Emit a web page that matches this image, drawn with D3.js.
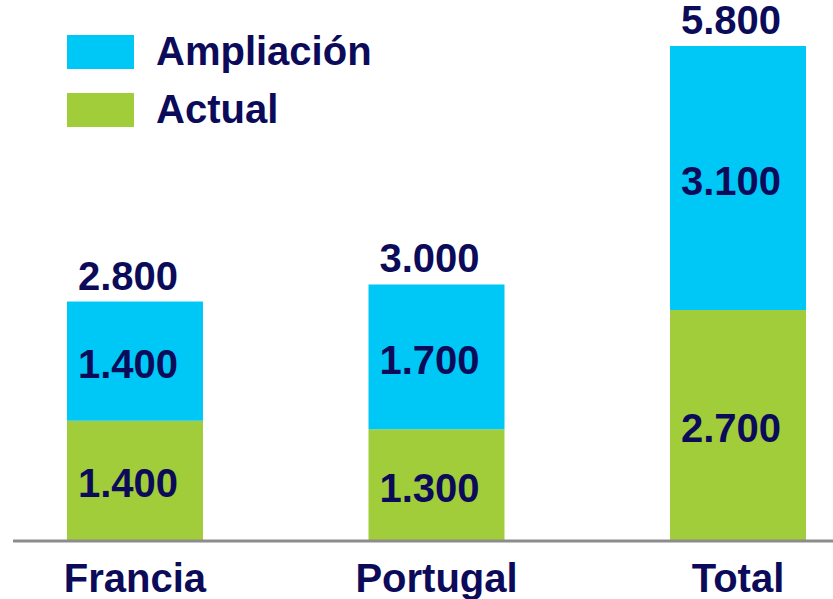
<!DOCTYPE html>
<html>
<head>
<meta charset="utf-8">
<title>Ampliación</title>
<style>
body { margin: 0; background: #fff; }
text { font-family: "Liberation Sans", Arial, sans-serif; font-weight: bold; fill: #0c0b5a; }
</style>
</head>
<body>
<script src="https://d3js.org/d3.v7.min.js"></script>
<script>
'use strict'

const categories = ['Francia', 'Portugal', 'Total']
const actual = [1400, 1300, 2700]
const ampliacion = [1400, 1700, 3100]
const totals = [2800, 3000, 5800]
const seriesNames = ['Ampliación', 'Actual']

const w = 833
const h = 599
const colors = { Actual: '#a2cd3a', 'Ampliación': '#00c8f6' }
const fmt = v => d3.format(',')(v).replace(/,/g, '.')

const svg = d3.select('body').append('svg')
  .attr('width', w)
  .attr('height', h)

const x = d3.scaleBand()
  .domain(categories)
  .range([67, 806])
  .paddingInner(0.549)
  .paddingOuter(0)

const y = d3.scaleLinear()
  .domain([0, 5800])
  .range([540, 46])

// stack the two series
const rows = categories.map((c, i) => ({ cat: c, Actual: actual[i], 'Ampliación': ampliacion[i], total: totals[i] }))
const stack = d3.stack().keys(['Actual', 'Ampliación'])(rows)

const layers = svg.selectAll('g.layer')
  .data(stack)
  .enter().append('g')
  .attr('class', 'layer')
  .attr('fill', d => colors[d.key])

layers.selectAll('rect')
  .data(d => d)
  .enter().append('rect')
  .attr('x', d => x(d.data.cat))
  .attr('y', d => y(d[1]))
  .attr('width', x.bandwidth())
  .attr('height', d => y(d[0]) - y(d[1]))

// segment labels
layers.selectAll('text')
  .data(d => d)
  .enter().append('text')
  .attr('x', d => x(d.data.cat) + x.bandwidth() / 2 - 7)
  .attr('y', d => (y(d[0]) + y(d[1])) / 2 + 17)
  .attr('text-anchor', 'middle')
  .attr('font-size', '40px')
  .text(d => fmt(d[1] - d[0]))

// totals above bars
svg.selectAll('text.total')
  .data(rows)
  .enter().append('text')
  .attr('class', 'total')
  .attr('x', d => x(d.cat) + x.bandwidth() / 2 - 7)
  .attr('y', d => y(d.total) - 12)
  .attr('text-anchor', 'middle')
  .attr('font-size', '40px')
  .text(d => fmt(d.total))

// baseline
svg.append('line')
  .attr('x1', 13)
  .attr('x2', w)
  .attr('y1', y(0) + 1)
  .attr('y2', y(0) + 1)
  .attr('stroke', '#8c8c8c')
  .attr('stroke-width', 3)

// category labels
svg.selectAll('text.cat')
  .data(categories)
  .enter().append('text')
  .attr('class', 'cat')
  .attr('x', d => x(d) + x.bandwidth() / 2)
  .attr('y', 592)
  .attr('text-anchor', 'middle')
  .attr('font-size', '40px')
  .text(d => d)

// legend
const legend = svg.selectAll('g.legend')
  .data(seriesNames)
  .enter().append('g')
  .attr('class', 'legend')
  .attr('transform', (d, i) => `translate(67, ${35 + i * 58})`)

legend.append('rect')
  .attr('width', 67)
  .attr('height', 34)
  .attr('fill', d => colors[d])

legend.append('text')
  .attr('x', 89)
  .attr('y', 30)
  .attr('font-size', '40px')
  .text(d => d)
</script>
</body>
</html>
